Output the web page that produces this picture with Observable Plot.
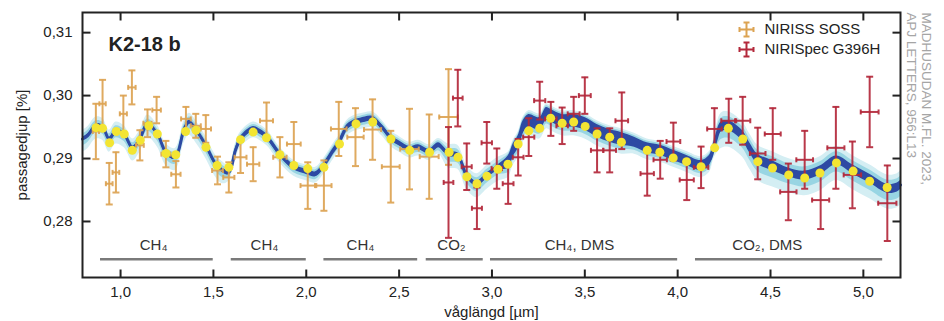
<!DOCTYPE html>
<html><head><meta charset="utf-8">
<script src="https://cdn.jsdelivr.net/npm/d3@7"></script>
<script src="https://cdn.jsdelivr.net/npm/@observablehq/plot@0.6"></script>
<style>
html,body{margin:0;padding:0;background:#fff;}
#chart{width:944px;height:321px;overflow:hidden;}
svg{display:block;}
</style></head><body><div id="chart"></div>
<script>
const FONT = "'Liberation Sans', Arial, Helvetica, sans-serif";

// ---- model spectrum (median) ----
const modelWl = [0.795,0.822,0.867,0.903,0.939,0.975,1.020,1.065,1.104,1.145,1.199,1.244,1.294,1.343,1.370,1.415,1.459,1.513,1.549,1.583,1.619,1.646,1.714,1.754,1.790,1.858,1.933,2.008,2.050,2.094,2.140,2.177,2.220,2.265,2.292,2.357,2.407,2.455,2.506,2.556,2.604,2.662,2.712,2.766,2.816,2.864,2.918,2.972,3.033,3.087,3.114,3.141,3.168,3.198,3.257,3.293,3.317,3.378,3.440,3.500,3.566,3.634,3.699,3.767,3.836,3.906,3.977,4.049,4.126,4.171,4.198,4.234,4.275,4.350,4.386,4.431,4.508,4.596,4.684,4.767,4.855,4.941,5.034,5.129,5.183,5.200];
const modelDepth = [0.2931,0.2936,0.2952,0.2950,0.2931,0.2944,0.2938,0.2917,0.2931,0.2955,0.2939,0.2910,0.2902,0.2947,0.2958,0.2942,0.2921,0.2891,0.2881,0.2878,0.2913,0.2931,0.2947,0.2942,0.2934,0.2907,0.2886,0.2878,0.2875,0.2889,0.2910,0.2926,0.2950,0.2958,0.2960,0.2963,0.2950,0.2933,0.2923,0.2915,0.2918,0.2911,0.2921,0.2907,0.2905,0.2873,0.2860,0.2873,0.2886,0.2894,0.2913,0.2926,0.2950,0.2960,0.2955,0.2971,0.2968,0.2960,0.2960,0.2955,0.2944,0.2936,0.2931,0.2926,0.2917,0.2913,0.2905,0.2897,0.2889,0.2897,0.2921,0.2950,0.2952,0.2936,0.2918,0.2899,0.2889,0.2878,0.2873,0.2881,0.2897,0.2883,0.2868,0.2852,0.2854,0.2858];

// ---- model spread per wavelength range ----
const bandFrom     = [0.79, 1.55, 2.75, 3.05, 3.75, 4.20, 4.55];
const bandBlue     = [0.0003,0.0004,0.0004,0.0010,0.0008,0.0008,0.0007];
const bandCyanUp   = [0.0014,0.0011,0.0016,0.0016,0.0014,0.0022,0.0022];
const bandCyanDown = [0.0021,0.0014,0.0022,0.0024,0.0019,0.0034,0.0032];

// ---- binned model (yellow dots) ----
const binWl = [0.868,0.903,0.941,0.977,1.020,1.063,1.106,1.152,1.198,1.245,1.297,1.350,1.406,1.460,1.520,1.583,1.646,1.714,1.786,1.858,1.933,2.008,2.095,2.179,2.268,2.358,2.456,2.557,2.664,2.769,2.817,2.865,2.919,2.973,3.032,3.086,3.141,3.198,3.257,3.316,3.378,3.440,3.502,3.566,3.634,3.697,3.836,3.904,3.976,4.048,4.126,4.199,4.273,4.351,4.432,4.511,4.598,4.684,4.766,4.855,4.945,5.034,5.128];
const binDepth = [0.2949,0.2948,0.2925,0.2943,0.2939,0.2913,0.2929,0.2952,0.2939,0.2908,0.2906,0.2943,0.2945,0.2918,0.2889,0.2886,0.2930,0.2942,0.2933,0.2906,0.2889,0.2884,0.2886,0.2923,0.2955,0.2958,0.2931,0.2913,0.2910,0.2910,0.2902,0.2871,0.2860,0.2872,0.2883,0.2891,0.2923,0.2944,0.2948,0.2964,0.2956,0.2958,0.2951,0.2939,0.2934,0.2926,0.2913,0.2910,0.2901,0.2895,0.2887,0.2917,0.2948,0.2931,0.2895,0.2885,0.2874,0.2869,0.2877,0.2893,0.2880,0.2864,0.2854];

// ---- NIRISS SOSS observations ----
const sossWl = [0.867,0.903,0.939,0.975,1.015,1.061,1.104,1.145,1.194,1.244,1.298,1.352,1.405,1.459,1.522,1.583,1.646,1.714,1.786,1.858,1.933,2.008,2.095,2.175,2.265,2.357,2.455,2.556,2.662,2.766];
const sossDepth = [0.2943,0.2987,0.2860,0.2878,0.2971,0.3013,0.2921,0.2956,0.2977,0.2907,0.2875,0.2963,0.2952,0.2947,0.2881,0.2870,0.2902,0.2891,0.2960,0.2902,0.2923,0.2857,0.2857,0.2947,0.2934,0.2946,0.2887,0.2915,0.2903,0.2966];
const sossErr = [0.0044,0.0038,0.0033,0.0032,0.0029,0.0027,0.0024,0.0022,0.0021,0.0021,0.0021,0.0019,0.0019,0.0022,0.0022,0.0024,0.0025,0.0027,0.0029,0.0032,0.0035,0.0037,0.0040,0.0043,0.0046,0.0048,0.0057,0.0064,0.0067,0.0076];
const sossXerr = [0.017,0.017,0.018,0.018,0.019,0.020,0.021,0.022,0.023,0.024,0.025,0.026,0.027,0.028,0.029,0.030,0.032,0.033,0.035,0.036,0.037,0.039,0.041,0.042,0.044,0.046,0.048,0.050,0.051,0.050];

// ---- NIRSpec G395H observations ----
const nrsWl = [2.766,2.816,2.864,2.919,2.972,3.026,3.087,3.141,3.198,3.257,3.317,3.378,3.440,3.500,3.566,3.634,3.699,3.836,3.906,3.977,4.049,4.126,4.198,4.275,4.350,4.431,4.512,4.596,4.684,4.770,4.852,4.941,5.034,5.129];
const nrsDepth = [0.2862,0.2996,0.2887,0.2821,0.2925,0.2884,0.2860,0.2902,0.2934,0.2992,0.2963,0.2952,0.2971,0.3000,0.2913,0.2913,0.2960,0.2876,0.2898,0.2927,0.2866,0.2886,0.2947,0.2960,0.2960,0.2908,0.2939,0.2847,0.2898,0.2834,0.2917,0.2874,0.2974,0.2829];
const nrsErr = [0.0088,0.0045,0.0037,0.0033,0.0033,0.0032,0.0032,0.0029,0.0030,0.0030,0.0027,0.0029,0.0027,0.0029,0.0035,0.0035,0.0045,0.0035,0.0030,0.0030,0.0032,0.0033,0.0033,0.0035,0.0038,0.0041,0.0041,0.0045,0.0046,0.0046,0.0065,0.0053,0.0056,0.0060];
const nrsXerr = [0.026,0.026,0.027,0.027,0.028,0.028,0.029,0.029,0.030,0.030,0.031,0.031,0.032,0.032,0.033,0.034,0.034,0.036,0.036,0.037,0.038,0.039,0.039,0.040,0.041,0.042,0.043,0.044,0.045,0.046,0.046,0.047,0.048,0.049];

// ---- axes ----
const xTicks = [1.0,1.5,2.0,2.5,3.0,3.5,4.0,4.5,5.0];
const yTicks = [0.28,0.29,0.30,0.31];
const xDomain = [0.795, 5.2];
const yDomain = [0.2711, 0.3132];

// ---- molecule annotations ----
const annotFrom  = [0.892, 1.596, 2.095, 2.646, 2.992, 4.096];
const annotTo    = [1.499, 2.000, 2.600, 2.953, 4.000, 5.104];
const annotTextX = [1.178, 1.775, 2.292, 2.782, 3.471, 4.483];
const annotLabel = ["CH₄", "CH₄", "CH₄", "CO₂", "CH₄, DMS", "CO₂, DMS"];
const annotLineY = 0.2740;
const annotTextY = 0.2762;

// ---- texts ----
const title = "K2-18 b";
const xLabel = "våglängd [µm]";
const yLabel = "passagedjup [%]";
const legendLabels = ["NIRISS SOSS", "NIRISpec G396H"];
const credit = ["MADHUSUDAN M.FL. 2023,", "APJ LETTERS, 956:L13"];

// ---------------------------------------------------------
const ORANGE = "#dca352", RED = "#b3283b", YELLOW = "#f3e532";
const BLUE = "#2d4aa3", CYAN = "#7fcbdb", CYAN_LIGHT = "#d4eef3", INK = "#222";

function segIndex(wl) {
  let k = 0;
  for (let i = 0; i < bandFrom.length; i++) if (wl >= bandFrom[i]) k = i;
  return k;
}
const model = modelWl.map((wl, i) => {
  const k = segIndex(wl), d = modelDepth[i];
  const b = bandBlue[k], cu = bandCyanUp[k], cd = bandCyanDown[k];
  return {wl, d,
    bLo: d - b, bHi: d + b,
    mLo: d - (b + 0.45 * (cd - b)), mHi: d + (b + 0.45 * (cu - b)),
    cLo: d - cd, cHi: d + cu};
});
const bins = binWl.map((wl, i) => ({wl, d: binDepth[i]}));
const soss = sossWl.map((wl, i) => ({wl, d: sossDepth[i], e: sossErr[i], xe: sossXerr[i]}));
const nrs = nrsWl.map((wl, i) => ({wl, d: nrsDepth[i], e: nrsErr[i], xe: nrsXerr[i]}));
const annots = annotFrom.map((a, i) => ({a, b: annotTo[i], tx: annotTextX[i], label: annotLabel[i]}));

const sym = (f) => ({draw(ctx) { f(ctx); }});
const hCap = sym(c => { c.moveTo(-3.5, 0); c.lineTo(3.5, 0); });
const vCap = sym(c => { c.moveTo(0, -2.5); c.lineTo(0, 2.5); });
const tickUp = sym(c => { c.moveTo(0, 0); c.lineTo(0, -8); });
const tickDown = sym(c => { c.moveTo(0, 0); c.lineTo(0, 8); });
const tickRight = sym(c => { c.moveTo(0, 0); c.lineTo(8, 0); });
const tickLeft = sym(c => { c.moveTo(0, 0); c.lineTo(-8, 0); });
const crossSym = sym(c => {
  c.moveTo(0, -7); c.lineTo(0, 7);
  c.moveTo(-3, -7); c.lineTo(3, -7);
  c.moveTo(-3, 7); c.lineTo(3, 7);
  c.moveTo(-7, 0); c.lineTo(7, 0);
  c.moveTo(-7, -2.5); c.lineTo(-7, 2.5);
  c.moveTo(7, -2.5); c.lineTo(7, 2.5);
});

function errorBars(data, color) {
  const o = {stroke: color, strokeWidth: 2, strokeOpacity: 0.92};
  const od = {...o, fill: "none"};
  return [
    Plot.ruleX(data, {x: "wl", y1: d => d.d - d.e, y2: d => d.d + d.e, ...o}),
    Plot.ruleY(data, {y: "d", x1: d => d.wl - d.xe, x2: d => d.wl + d.xe, ...o}),
    Plot.dot(data, {x: "wl", y: d => d.d - d.e, symbol: hCap, ...od}),
    Plot.dot(data, {x: "wl", y: d => d.d + d.e, symbol: hCap, ...od}),
    Plot.dot(data, {x: d => d.wl - d.xe, y: "d", symbol: vCap, ...od}),
    Plot.dot(data, {x: d => d.wl + d.xe, y: "d", symbol: vCap, ...od})
  ];
}

const fmtX = d => d.toFixed(1).replace(".", ",");
const fmtY = d => d.toFixed(2).replace(".", ",");

const chart = Plot.plot({
  width: 944, height: 321,
  marginLeft: 82, marginRight: 44, marginTop: 12, marginBottom: 44,
  x: {domain: xDomain, label: null},
  y: {domain: yDomain, label: null},
  style: {fontFamily: FONT, fontSize: "15px", color: INK, background: "#fff", overflow: "visible"},
  marks: [
    Plot.areaY(model, {x: "wl", y1: "cLo", y2: "cHi", fill: CYAN_LIGHT, curve: "catmull-rom"}),
    Plot.areaY(model, {x: "wl", y1: "mLo", y2: "mHi", fill: CYAN, fillOpacity: 0.7, curve: "catmull-rom"}),
    Plot.areaY(model, {x: "wl", y1: "bLo", y2: "bHi", fill: BLUE, curve: "catmull-rom"}),
    Plot.line(model, {x: "wl", y: "d", stroke: BLUE, strokeWidth: 3, curve: "catmull-rom"}),
    ...errorBars(soss, ORANGE),
    ...errorBars(nrs, RED),
    Plot.dot(bins, {x: "wl", y: "d", r: 4.5, fill: YELLOW, stroke: "none"}),
    // annotations
    Plot.ruleY(annots, {y: () => annotLineY, x1: "a", x2: "b", stroke: "#7a7a7a", strokeWidth: 2.5}),
    Plot.text(annots, {x: "tx", y: () => annotTextY, text: "label", fill: "#333", fontSize: 15}),
    // frame + ticks
    Plot.frame({stroke: INK, strokeWidth: 2}),
    Plot.dot(xTicks, {x: d => d, y: () => yDomain[0], symbol: tickUp, stroke: INK, strokeWidth: 2, fill: "none"}),
    Plot.dot(xTicks, {x: d => d, y: () => yDomain[1], symbol: tickDown, stroke: INK, strokeWidth: 2, fill: "none"}),
    Plot.dot(yTicks, {y: d => d, x: () => xDomain[0], symbol: tickRight, stroke: INK, strokeWidth: 2, fill: "none"}),
    Plot.dot(yTicks, {y: d => d, x: () => xDomain[1], symbol: tickLeft, stroke: INK, strokeWidth: 2, fill: "none"}),
    Plot.axisX(xTicks, {tickSize: 0, tickPadding: 9, tickFormat: fmtX, fontSize: 15, label: null}),
    Plot.axisY(yTicks, {tickSize: 0, tickPadding: 10, tickFormat: fmtY, fontSize: 15, label: null}),
    // labels
    Plot.text([xLabel], {frameAnchor: "bottom", dy: 35, lineAnchor: "middle", textAnchor: "middle", text: d => d, fontSize: 15}),
    Plot.text([yLabel], {frameAnchor: "left", dx: -60, rotate: -90, lineAnchor: "middle", textAnchor: "middle", text: d => d, fontSize: 15}),
    Plot.text([title], {frameAnchor: "top-left", dx: 26, dy: 32, lineAnchor: "middle", text: d => d, textAnchor: "start", fontWeight: "bold", fontSize: 20}),
    // legend
    Plot.dot([0], {x: () => xDomain[1], y: () => yDomain[1], dx: -154, dy: 17, symbol: crossSym, stroke: ORANGE, strokeWidth: 2, fill: "none"}),
    Plot.dot([0], {x: () => xDomain[1], y: () => yDomain[1], dx: -154, dy: 37, symbol: crossSym, stroke: RED, strokeWidth: 2, fill: "none"}),
    Plot.text([legendLabels[0]], {frameAnchor: "top-right", dx: -136, dy: 17, lineAnchor: "middle", text: d => d, textAnchor: "start", fontSize: 15}),
    Plot.text([legendLabels[1]], {frameAnchor: "top-right", dx: -136, dy: 37, lineAnchor: "middle", text: d => d, textAnchor: "start", fontSize: 15}),
    // credit
    Plot.text([credit[0]], {frameAnchor: "top-right", dx: 26, dy: 0, rotate: 90, lineAnchor: "middle", text: d => d, textAnchor: "start", fill: "#a5a5a5", fontSize: 13.5}),
    Plot.text([credit[1]], {frameAnchor: "top-right", dx: 11, dy: 0, rotate: 90, lineAnchor: "middle", text: d => d, textAnchor: "start", fill: "#a5a5a5", fontSize: 13.5})
  ]
});
document.getElementById("chart").appendChild(chart);
</script></body></html>
